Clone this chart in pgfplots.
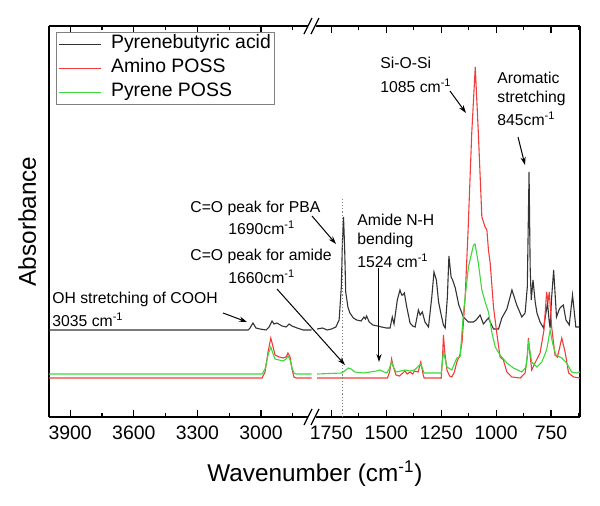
\documentclass[border=0pt]{standalone}
\usepackage{pgfplots}
\pgfplotsset{compat=1.18}
\usepackage{fontspec}
\setmainfont{Liberation Sans}
\usetikzlibrary{arrows.meta}
\definecolor{pbagray}{HTML}{333333}
\definecolor{aminored}{HTML}{F23C3C}
\definecolor{pyrgreen}{HTML}{3CD83C}

\pgfplotsset{
  ftir/.style={
    scale only axis,
    height=195.5bp,
    ymin=0, ymax=391,
    ytick=\empty,
    x dir=reverse,
    axis x line*=box,
    tick align=inside,
    major tick length=3.5bp,
    minor tick length=2bp,
    xticklabel style={font=\fontsize{9.75}{11}\selectfont, yshift=-1bp},
    /pgf/number format/assume math mode=true,
    /pgf/number format/1000 sep={},
    axis line style={line width=0.6bp},
    every tick/.style={black, line width=0.6bp},
    every axis plot/.append style={line width=0.55bp},
  },
}

\begin{document}
\begin{tikzpicture}
\path[use as bounding box] (0,0) rectangle (300bp,-253bp);

% left part: 4000 - 2755
\begin{axis}[ftir, at={(24.5bp,-208.5bp)}, anchor=south west, width=132bp,
  xmin=2755, xmax=4000, axis y line*=left,
  xtick={3000,3300,3600,3900}, minor xtick={2850,3150,3450,3750},
  ylabel={Absorbance},
  ylabel style={font=\fontsize{12.2}{14}\selectfont, at={(axis description cs:-0.083,0.5)}, anchor=center},
  legend style={at={(0.026,0.985)}, anchor=north west, draw=gray, line width=0.6bp,
    font=\fontsize{9.75}{11}\selectfont, inner sep=0.75bp, row sep=1.5bp,
    nodes={inner sep=1bp, text height=6.5bp, text depth=2bp},
    /tikz/every odd column/.append style={column sep=4bp}},
  legend cell align=left,
  legend image code/.code={\draw[#1] plot coordinates {(0bp,0bp) (10.5bp,0bp) (21bp,0bp)};},
]
\addplot[pbagray] coordinates {
(4000,87) (3061,87) (3052,89) (3038,94) (3024,89) (3005,88) (2976,87) (2962,90)
(2948,96) (2939,93) (2925,94) (2901,91) (2882,90) (2868,93) (2854,91) (2830,89)
(2802,87) (2762,87)};
\addplot[aminored] coordinates {
(4000,39) (2995,39) (2981,45) (2967,65) (2954,79) (2943,70) (2934,62) (2915,60)
(2896,59) (2882,60) (2873,64) (2863,60) (2854,48) (2845,40) (2835,39) (2762,39)};
\addplot[pyrgreen] coordinates {
(4000,43) (2995,43) (2981,48) (2967,62) (2954,70) (2943,63) (2934,58) (2915,57)
(2896,56) (2882,58) (2873,61) (2863,57) (2854,49) (2845,44) (2835,43) (2762,43)};
\legend{Pyrenebutyric acid, Amino POSS, Pyrene POSS}
\end{axis}

% right part: 1834 - 618
\begin{axis}[ftir, at={(156.5bp,-208.5bp)}, anchor=south west, width=133.5bp,
  xmin=618, xmax=1834, axis y line*=right,
  xtick={750,1000,1250,1500,1750}, minor xtick={625,875,1125,1375,1625},
]
\addplot[pbagray] coordinates {
(1815,88) (1790,89) (1770,87) (1750,88) (1730,90) (1715,97) (1705,130) (1700,175)
(1695,200) (1690,170) (1685,125) (1675,110) (1666,104) (1650,99) (1635,97) (1615,96)
(1602,100) (1595,98) (1590,101) (1578,95) (1561,92) (1540,91) (1521,90) (1500,89)
(1483,89) (1473,100) (1465,93) (1450,117) (1438,127) (1430,122) (1425,122) (1418,124)
(1407,110) (1392,94) (1380,91) (1369,90) (1354,107) (1346,102) (1336,105) (1324,95)
(1308,90) (1293,120) (1283,145) (1272,137) (1262,115) (1252,104) (1240,92) (1232,89)
(1222,120) (1215,161) (1205,140) (1198,137) (1186,129) (1170,112) (1149,100) (1126,95)
(1103,95) (1091,97) (1073,102) (1058,93) (1035,99) (1012,88) (989,88) (974,99)
(951,108) (928,127) (906,112) (883,100) (868,104) (858,130) (850,245) (845,150)
(840,117) (832,137) (822,115) (814,104) (800,95) (784,89) (766,114) (758,95)
(754,89) (748,117) (738,147) (725,100) (712,108) (705,110) (694,112) (682,97)
(667,92) (652,122) (637,90) (620,90)};
\addplot[aminored] coordinates {
(1815,39) (1495,39) (1485,45) (1476,58) (1468,50) (1456,42) (1440,41) (1425,44)
(1415,46) (1405,43) (1392,45) (1380,43) (1372,46) (1355,45) (1343,55) (1333,43)
(1328,39) (1250,39) (1244,60) (1240,82) (1234,65) (1224,47) (1212,41) (1202,40)
(1190,45) (1179,55) (1165,62) (1155,75) (1141,120) (1128,185) (1111,284) (1095,350)
(1081,284) (1065,200) (1050,190) (1042,187) (1035,167) (1027,154) (1012,110) (997,84)
(982,60) (967,57) (951,45) (928,40) (890,39) (868,44) (858,60) (853,79)
(847,65) (838,47) (823,54) (800,64) (782,87) (770,125) (764,115) (758,125)
(747,90) (732,62) (721,60) (712,68) (701,79) (685,64) (670,44) (647,40) (618,39)};
\addplot[pyrgreen] coordinates {
(1815,43) (1704,44) (1690,46) (1673,49) (1660,48) (1643,45) (1605,44) (1574,45)
(1545,46) (1529,47) (1510,45) (1498,44) (1487,48) (1476,55) (1466,49) (1456,45)
(1415,47) (1392,46) (1372,47) (1343,53) (1328,44) (1250,44) (1240,65) (1232,58)
(1224,50) (1202,47) (1179,59) (1164,60) (1149,104) (1126,150) (1103,172) (1096,173)
(1081,154) (1065,127) (1050,115) (1035,105) (1019,84) (1004,70) (982,62) (951,54)
(921,49) (883,45) (864,50) (852,74) (838,55) (814,50) (792,55) (770,67)
(754,87) (743,74) (728,62) (701,59) (679,54) (656,45) (633,44) (618,45)};
\draw[gray, densely dotted, line width=0.6bp] (axis cs:1700,0) -- (axis cs:1700,220);
\end{axis}

% annotations, in pixel units of the reference
\begin{scope}[x=0.5bp, y=-0.5bp, font=\fontsize{7.9}{9}\selectfont,
  arr/.style={-{Stealth[length=4bp,width=2.6bp]}, line width=0.5bp}]
  % axis break marks
  \foreach \yy in {26,417} {
    \fill[white] (305,\yy+7) -- (311,\yy-7) -- (319,\yy-7) -- (313,\yy+7) -- cycle;
    \draw[line width=0.6bp] (304,\yy+8) -- (312,\yy-8);
    \draw[line width=0.6bp] (311,\yy+8) -- (319,\yy-8);
  }
  \node[anchor=west, inner sep=0] at (52,299) {OH stretching of COOH};
  \node[anchor=west, inner sep=0] at (52,320) {3035 cm\textsuperscript{-1}};
  \node[anchor=west, inner sep=0] at (190,208) {C=O peak for PBA};
  \node[anchor=west, inner sep=0] at (228,228) {1690cm\textsuperscript{-1}};
  \node[anchor=west, inner sep=0] at (190,256) {C=O peak for amide};
  \node[anchor=west, inner sep=0] at (228,277) {1660cm\textsuperscript{-1}};
  \node[anchor=west, inner sep=0] at (357,220) {Amide N-H};
  \node[anchor=west, inner sep=0] at (357,240) {bending};
  \node[anchor=west, inner sep=0] at (357,261) {1524 cm\textsuperscript{-1}};
  \node[anchor=west, inner sep=0] at (380,63) {Si-O-Si};
  \node[anchor=west, inner sep=0] at (380,86) {1085 cm\textsuperscript{-1}};
  \node[anchor=west, inner sep=0] at (497,78) {Aromatic};
  \node[anchor=west, inner sep=0] at (497,98) {stretching};
  \node[anchor=west, inner sep=0] at (497,119) {845cm\textsuperscript{-1}};
  \draw[arr] (223,313) -- (247,322);
  \draw[arr] (312,216) -- (336,244);
  \draw[arr] (277,289) -- (345,365);
  \draw[arr] (379,268) -- (379,362);
  \draw[arr] (450,91) -- (466,113);
  \draw[arr] (518,137) -- (525,165);
  \node[font=\fontsize{12.2}{14}\selectfont] at (315,474) {Wavenumber (cm\textsuperscript{-1})};
\end{scope}
\end{tikzpicture}
\end{document}
